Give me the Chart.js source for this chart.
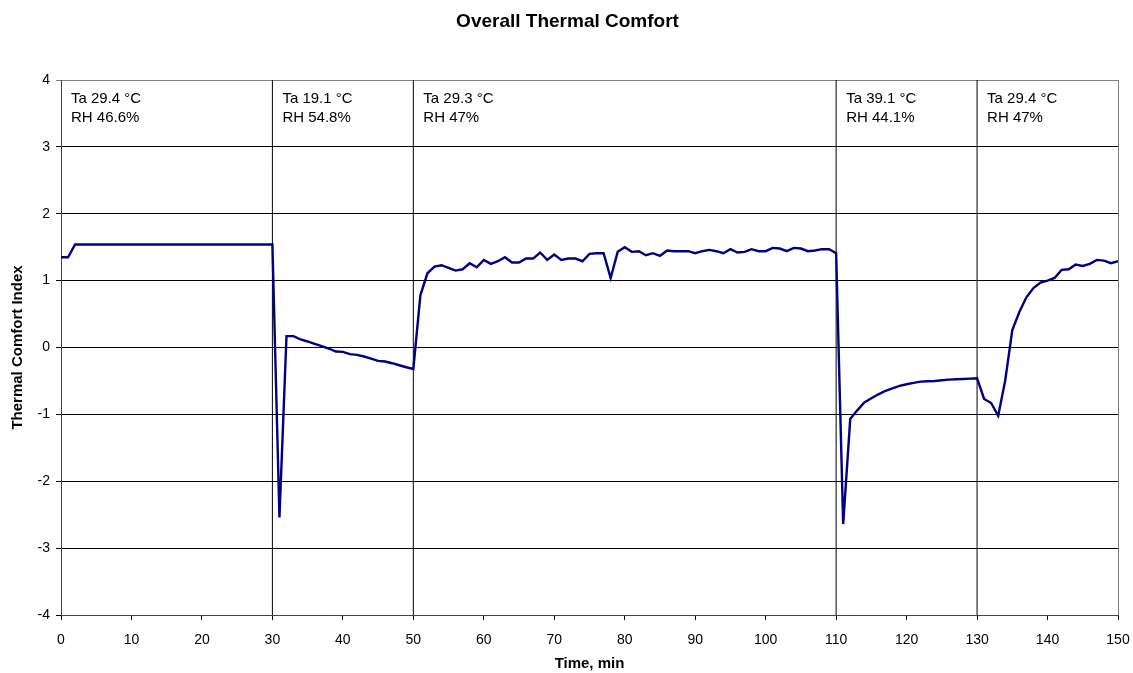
<!DOCTYPE html>
<html>
<head>
<meta charset="utf-8">
<title>Overall Thermal Comfort</title>
<script src="https://cdn.jsdelivr.net/npm/chart.js@4/dist/chart.umd.min.js"></script>
<style>
  html, body { margin: 0; padding: 0; background: #fff; }
  #wrap { width: 1133px; height: 673px; }
</style>
</head>
<body>
<div id="wrap"><canvas id="comfortChart" width="1133" height="673"></canvas></div>
<script>
// one reading per minute, t = 0 .. 150
const comfortIndex = [
    1.35, 1.35, 1.54, 1.54, 1.54, 1.54, 1.54, 1.54, 1.54, 1.54,
    1.54, 1.54, 1.54, 1.54, 1.54, 1.54, 1.54, 1.54, 1.54, 1.54,
    1.54, 1.54, 1.54, 1.54, 1.54, 1.54, 1.54, 1.54, 1.54, 1.54,
    1.54, -2.54, 0.17, 0.17, 0.12, 0.09, 0.055, 0.02, -0.015, -0.06,
    -0.065, -0.10, -0.11, -0.135, -0.165, -0.20, -0.21, -0.235, -0.265, -0.295,
    -0.32, 0.78, 1.11, 1.21, 1.23, 1.19, 1.15, 1.17, 1.26, 1.20,
    1.31, 1.25, 1.29, 1.35, 1.27, 1.27, 1.33, 1.33, 1.42, 1.31,
    1.39, 1.31, 1.33, 1.33, 1.29, 1.40, 1.41, 1.41, 1.04, 1.43,
    1.50, 1.43, 1.44, 1.38, 1.41, 1.37, 1.45, 1.44, 1.44, 1.44,
    1.41, 1.44, 1.46, 1.44, 1.41, 1.47, 1.42, 1.43, 1.47, 1.44,
    1.44, 1.49, 1.48, 1.44, 1.49, 1.48, 1.44, 1.45, 1.47, 1.47,
    1.41, -2.64, -1.07, -0.94, -0.82, -0.76, -0.70, -0.65, -0.61, -0.575,
    -0.55, -0.53, -0.51, -0.505, -0.50, -0.49, -0.48, -0.475, -0.47, -0.465,
    -0.46, -0.77, -0.83, -1.02, -0.49, 0.26, 0.53, 0.75, 0.89, 0.97,
    1.00, 1.04, 1.16, 1.17, 1.24, 1.22, 1.25, 1.31, 1.30, 1.26,
    1.29
];

// condition changes (minutes)
const phaseStarts = [0, 30, 50, 110, 130];
const phaseTa = ['Ta 29.4 °C', 'Ta 19.1 °C', 'Ta 29.3 °C', 'Ta 39.1 °C', 'Ta 29.4 °C'];
const phaseRh = ['RH 46.6%', 'RH 54.8%', 'RH 47%', 'RH 44.1%', 'RH 47%'];

const chartTitle = 'Overall Thermal Comfort';

const xMin = 0, xMax = 150, xStep = 10;
const yMin = -4, yMax = 4, yStep = 1;

const FONT = "'Liberation Sans', Arial, Helvetica, sans-serif";
Chart.defaults.font.family = FONT;
Chart.defaults.color = '#000';

const linePoints = comfortIndex.map((v, i) => ({ x: i, y: v }));

const dividerSets = phaseStarts.slice(1).map(t => ({
    data: [{ x: t, y: yMin }, { x: t, y: yMax }],
    borderColor: '#000',
    borderWidth: 1,
    pointRadius: 0,
    order: 2
}));

// title centred on the whole page, frame on the right side, phase labels
const phaseLabels = {
    id: 'phaseLabels',
    afterDatasetsDraw(chart) {
        const { ctx, chartArea, scales } = chart;
        ctx.save();
        ctx.strokeStyle = '#808080';
        ctx.lineWidth = 1;
        ctx.beginPath();
        ctx.moveTo(chartArea.right + 0.5, chartArea.top);
        ctx.lineTo(chartArea.right + 0.5, chartArea.bottom);
        ctx.stroke();

        ctx.fillStyle = '#000';
        ctx.textBaseline = 'middle';
        ctx.textAlign = 'center';
        ctx.font = 'bold 19px ' + FONT;
        ctx.fillText(chartTitle, chart.width / 2 + 1, 22);

        ctx.textAlign = 'left';
        ctx.font = '15px ' + FONT;
        const top = scales.y.getPixelForValue(yMax);
        phaseStarts.forEach((t, i) => {
            const x = scales.x.getPixelForValue(t) + 10;
            ctx.fillText(phaseTa[i], x, top + 19);
            ctx.fillText(phaseRh[i], x, top + 38);
        });
        ctx.restore();
    }
};

new Chart(document.getElementById('comfortChart').getContext('2d'), {
    type: 'line',
    data: {
        datasets: [{
            data: linePoints,
            borderColor: '#000080',
            borderWidth: 2.4,
            pointRadius: 0,
            tension: 0,
            order: 1
        }, ...dividerSets]
    },
    options: {
        responsive: false,
        animation: false,
        layout: { padding: { left: 0, right: 15, top: 80, bottom: 0 } },
        plugins: {
            legend: { display: false },
            tooltip: { enabled: false },
            title: { display: false }
        },
        scales: {
            x: {
                type: 'linear',
                min: xMin,
                max: xMax,
                ticks: { stepSize: xStep, font: { size: 14 }, padding: 12, maxRotation: 0 },
                grid: { drawOnChartArea: false, drawTicks: true, tickLength: 5, color: '#000' },
                border: { display: true, color: '#444', width: 1 },
                title: {
                    display: true,
                    text: 'Time, min',
                    font: { size: 15, weight: 'bold' },
                    padding: { top: 4, bottom: 0 }
                },
                afterFit(scale) {
                    scale.height = 58;
                    scale.paddingLeft = 0;
                    scale.paddingRight = 0;
                }
            },
            y: {
                min: yMin,
                max: yMax,
                ticks: { stepSize: yStep, font: { size: 14 }, padding: 6 },
                grid: {
                    color: ctx => (ctx.tick && ctx.tick.value === yMax) ? '#808080' : '#000',
                    drawTicks: true,
                    tickLength: 5
                },
                border: { display: true, color: '#444', width: 1 },
                title: {
                    display: true,
                    text: 'Thermal Comfort Index',
                    font: { size: 15, weight: 'bold' },
                    padding: { top: 9, bottom: 0 }
                },
                afterFit(scale) {
                    scale.width = 61;
                    scale.paddingTop = 0;
                    scale.paddingBottom = 0;
                }
            }
        }
    },
    plugins: [phaseLabels]
});
</script>
</body>
</html>
